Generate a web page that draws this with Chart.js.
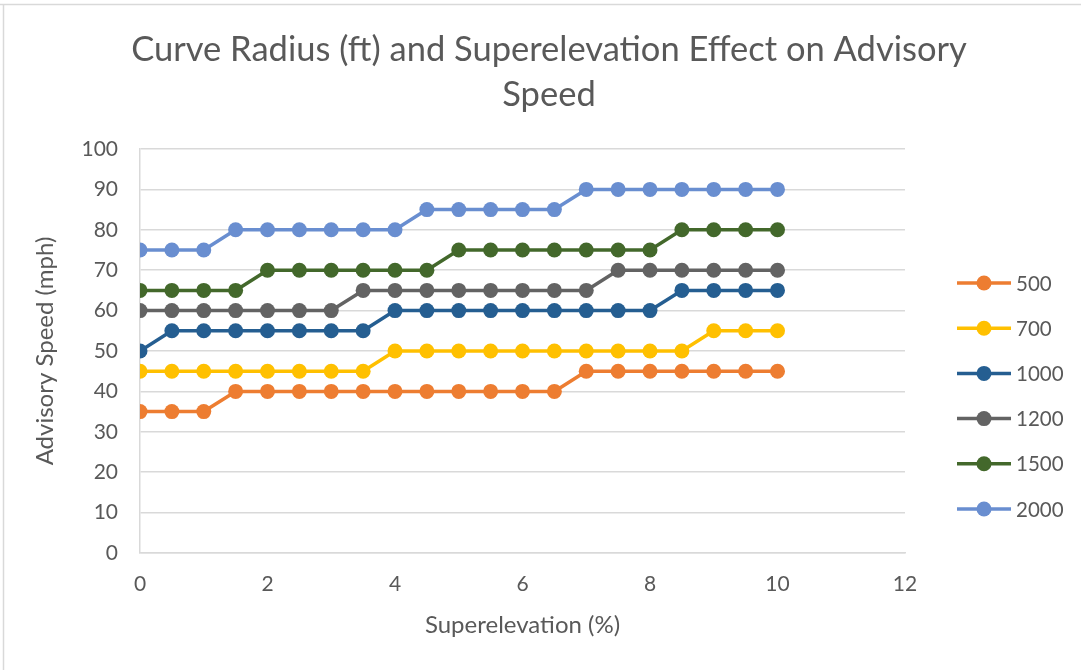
<!DOCTYPE html>
<html>
<head>
<meta charset="utf-8">
<script src="https://cdn.jsdelivr.net/npm/chart.js@4.4.1/dist/chart.umd.min.js"></script>
<style>
  html, body { margin: 0; padding: 0; background: #fff; }
  #wrap { width: 1081px; height: 670px; position: relative; }
</style>
</head>
<body>
<div id="wrap"><canvas id="speedChart"></canvas></div>
<script>
// superelevation (%) sample points
const superelevation = [0, 0.5, 1, 1.5, 2, 2.5, 3, 3.5, 4, 4.5, 5, 5.5, 6, 6.5, 7, 7.5, 8, 8.5, 9, 9.5, 10];

const radiusLabels = ["500", "700", "1000", "1200", "1500", "2000"];

const speed500  = [35, 35, 35, 40, 40, 40, 40, 40, 40, 40, 40, 40, 40, 40, 45, 45, 45, 45, 45, 45, 45];
const speed700  = [45, 45, 45, 45, 45, 45, 45, 45, 50, 50, 50, 50, 50, 50, 50, 50, 50, 50, 55, 55, 55];
const speed1000 = [50, 55, 55, 55, 55, 55, 55, 55, 60, 60, 60, 60, 60, 60, 60, 60, 60, 65, 65, 65, 65];
const speed1200 = [60, 60, 60, 60, 60, 60, 60, 65, 65, 65, 65, 65, 65, 65, 65, 70, 70, 70, 70, 70, 70];
const speed1500 = [65, 65, 65, 65, 70, 70, 70, 70, 70, 70, 75, 75, 75, 75, 75, 75, 75, 80, 80, 80, 80];
const speed2000 = [75, 75, 75, 80, 80, 80, 80, 80, 80, 85, 85, 85, 85, 85, 90, 90, 90, 90, 90, 90, 90];

const seriesValues = [speed500, speed700, speed1000, speed1200, speed1500, speed2000];
const seriesColors = ["#ED7D31", "#FFC000", "#255E91", "#636363", "#43682B", "#698ED0"];

const chartTitle = ["Curve Radius (ft) and Superelevation Effect on Advisory", "Speed"];

const FONT = "Lato, 'Open Sans', sans-serif";
const TEXT = "#595959";
const GRID = "#d9d9d9";

const datasets = seriesValues.map((vals, i) => ({
    label: radiusLabels[i],
    data: vals.map((v, j) => ({ x: superelevation[j], y: v })),
    borderColor: seriesColors[i],
    backgroundColor: seriesColors[i],
    borderWidth: 3.5,
    pointRadius: 7.5,
    pointHoverRadius: 7.5,
    pointBorderWidth: 0,
    showLine: true,
    order: seriesValues.length - i
}));

/* ==================================
   Frame, title and legend (Excel look)
   ================================== */
const excelDecor = {
    id: 'excelDecor',
    beforeDraw(chart) {
        const ctx = chart.ctx;
        ctx.save();
        ctx.fillStyle = '#fff';
        ctx.fillRect(0, 0, chart.width, chart.height);
        ctx.strokeStyle = GRID;
        ctx.lineWidth = 1.5;
        ctx.beginPath();
        ctx.moveTo(0, 4.5); ctx.lineTo(chart.width, 4.5);
        ctx.moveTo(3.5, 4.5); ctx.lineTo(3.5, chart.height);
        ctx.stroke();
        ctx.restore();
    },
    afterDraw(chart) {
        const ctx = chart.ctx;
        ctx.save();
        // title
        ctx.fillStyle = TEXT;
        ctx.font = "34.5px " + FONT;
        ctx.textAlign = 'center';
        ctx.textBaseline = 'middle';
        chartTitle.forEach((line, k) => ctx.fillText(line, 549, 50 + k * 45));

        // legend
        chart.data.datasets.forEach((ds, i) => {
            const y = 283 + i * 45.2;
            ctx.strokeStyle = ds.borderColor;
            ctx.lineWidth = 3.5;
            ctx.beginPath();
            ctx.moveTo(957, y); ctx.lineTo(1011, y);
            ctx.stroke();
            ctx.fillStyle = ds.borderColor;
            ctx.beginPath();
            ctx.arc(984, y, 7.5, 0, Math.PI * 2);
            ctx.fill();
            ctx.fillStyle = TEXT;
            ctx.font = "20.5px " + FONT;
            ctx.textBaseline = 'middle';
            ctx.textAlign = 'left';
            ctx.fillText(ds.label, 1016, y + 1);
        });
        ctx.restore();
    }
};

new Chart(document.getElementById("speedChart"), {
    type: 'scatter',
    data: { datasets: datasets },
    options: {
        responsive: true,
        maintainAspectRatio: false,
        animation: false,
        events: [],
        layout: { padding: { left: 0, right: 176, top: 149, bottom: 0 } },
        plugins: {
            legend: { display: false },
            tooltip: { enabled: false },
            title: { display: false }
        },
        scales: {
            x: {
                type: 'linear',
                min: 0,
                max: 12,
                ticks: { stepSize: 2, color: TEXT, padding: 19, font: { family: FONT, size: 21 } },
                grid: { display: false, drawTicks: false },
                border: { display: true, color: GRID, width: 1.5 },
                title: {
                    display: true,
                    text: "Superelevation (%)",
                    color: TEXT,
                    font: { family: FONT, size: 24 },
                    padding: { top: 0, bottom: 30.6 }
                },
                afterFit(scale) { scale.height = 117; }
            },
            y: {
                min: 0,
                max: 100,
                ticks: { stepSize: 10, color: TEXT, padding: 22, font: { family: FONT, size: 21 } },
                grid: { color: GRID, lineWidth: 1.5, drawTicks: false },
                border: { display: true, color: GRID, width: 1.5 },
                title: {
                    display: true,
                    text: "Advisory Speed (mph)",
                    color: TEXT,
                    font: { family: FONT, size: 24 },
                    padding: { top: 30.6, bottom: 0 }
                },
                afterFit(scale) { scale.width = 140; }
            }
        }
    },
    plugins: [excelDecor]
});
</script>
</body>
</html>
